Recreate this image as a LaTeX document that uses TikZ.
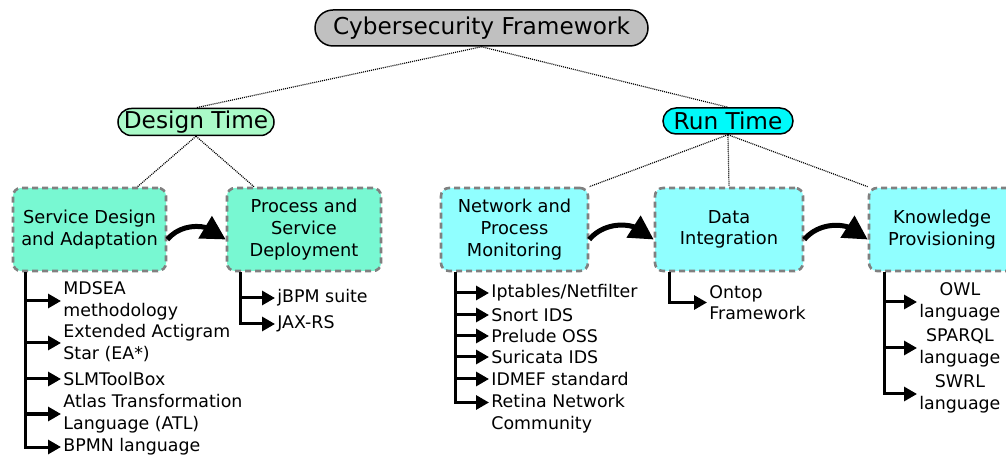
\documentclass[tikz,border=0pt]{standalone}
\usepackage{fontspec}
\setmainfont{DejaVu Sans}
\usetikzlibrary{arrows.meta,bending}

\definecolor{titlegray}{RGB}{192,192,192}
\definecolor{designgreen}{RGB}{170,250,200}
\definecolor{runcyan}{RGB}{0,250,250}
\definecolor{designbox}{RGB}{120,248,210}
\definecolor{runbox}{RGB}{144,255,255}
\definecolor{boxborder}{RGB}{128,128,128}

\begin{document}
\begin{tikzpicture}[x=0.5pt,y=-0.5pt,
    pill/.style={draw=black, line width=0.75pt, inner sep=0pt, font=\fontsize{11.6}{13}\selectfont},
    phase/.style={draw=boxborder, line width=1.3pt, dash pattern=on 3pt off 2pt, rounded corners=4pt,
      minimum height=41.5pt, align=center, inner sep=2pt, font=\fontsize{8.9}{10.8}\selectfont},
    tool/.style={anchor=west, align=left, inner sep=1pt, font=\fontsize{8.7}{10.8}\selectfont},
    link/.style={line width=0.6pt, dash pattern=on 0.5pt off 0.5pt},
    flow/.style={line width=2.5pt, -{Triangle[length=12pt,width=12.5pt,flex]}},
    branch/.style={line width=1.5pt, -{Triangle[length=6.5pt,width=7pt]}}]

	\useasboundingbox (0,0) rectangle (1006,459);

	% Framework and phases
	\node[pill, fill=titlegray, minimum width=166.5pt, minimum height=18pt, rounded corners=9pt] (cf) at (481.5,28) {Cybersecurity Framework};
	\node[pill, fill=designgreen, minimum width=78pt, minimum height=13.5pt, rounded corners=6.75pt] (dt) at (196,122) {Design Time};
	\node[pill, fill=runcyan, minimum width=65pt, minimum height=13pt, rounded corners=6.5pt] (rt) at (728,121) {Run Time};

	% Activities
	\node[phase, fill=designbox, minimum width=76.5pt] (sda) at (89.5,229.5) {Service Design\\and Adaptation};
	\node[phase, fill=designbox, minimum width=77pt] (psd) at (304,229.5) {Process and\\Service\\Deployment};
	\node[phase, fill=runbox, minimum width=73.5pt] (npm) at (514.5,229.5) {Network and\\Process\\Monitoring};
	\node[phase, fill=runbox, minimum width=74pt] (di) at (729,229.5) {Data\\Integration};
	\node[phase, fill=runbox, minimum width=73pt] (kp) at (942,229.5) {Knowledge\\Provisioning};

	% Hierarchy
	\draw[link] (cf.south) -- (dt.north);
	\draw[link] (cf.south) -- (rt.north);
	\draw[link] (dt.south) -- ([xshift=24pt]sda.north);
	\draw[link] (dt.south) -- ([xshift=-25pt]psd.north);
	\draw[link] (rt.south) -- (npm.north east);
	\draw[link] (rt.south) -- (di.north);
	\draw[link] (rt.south) -- (kp.north west);

	% Sequence
	\draw[flow] ([yshift=-5pt]sda.east) to[bend left=50] ([yshift=-5pt]psd.west);
	\draw[flow] ([yshift=-5pt]npm.east) to[bend left=50] ([yshift=-5pt]di.west);
	\draw[flow] ([yshift=-5pt]di.east) to[bend left=50] ([yshift=-5pt]kp.west);

	% Tools of each activity
	\node[tool] (mdsea) at (61,301) {MDSEA\\methodology};
	\node[tool] (eastar) at (61,343) {Extended Actigram\\Star (EA*)};
	\node[tool] (slm) at (61,379) {SLMToolBox};
	\node[tool] (atl) at (61,414) {Atlas Transformation\\Language (ATL)};
	\node[tool] (bpmn) at (61,447) {BPMN language};
	\foreach \t in {mdsea,eastar,slm,atl,bpmn}
		\draw[branch] ([xshift=7pt]sda.south west) |- (\t.west);

	\node[tool] (jbpm) at (275,298) {jBPM suite};
	\node[tool] (jaxrs) at (275,324) {JAX-RS};
	\foreach \t in {jbpm,jaxrs}
		\draw[branch] ([xshift=7.5pt]psd.south west) |- (\t.west);

	\node[tool] (ipt) at (489,293) {Iptables/Netfilter};
	\node[tool] (snort) at (489,315) {Snort IDS};
	\node[tool] (prelude) at (489,336) {Prelude OSS};
	\node[tool] (suricata) at (489,357) {Suricata IDS};
	\node[tool] (idmef) at (489,379) {IDMEF standard};
	\node[tool] (retina) at (489,413.5) {Retina Network\\Community};
	\foreach \t in {ipt,snort,prelude,suricata,idmef}
		\draw[branch] ([xshift=8pt]npm.south west) |- (\t.west);
	\draw[branch] ([xshift=8pt]npm.south west) |- ([yshift=5.5pt]retina.west);

	\node[tool] (ontop) at (707,302.5) {Ontop\\Framework};
	\draw[branch] ([xshift=8pt]di.south west) |- (ontop.west);

	\node[tool, align=center] (owl) at (917,302) {OWL\\language};
	\node[tool, align=center] (sparql) at (917,348) {SPARQL\\language};
	\node[tool, align=center] (swrl) at (917,394) {SWRL\\language};
	\foreach \t in {owl,sparql,swrl}
		\draw[branch] ([xshift=8.5pt]kp.south west) |- (\t.west);
\end{tikzpicture}
\end{document}
